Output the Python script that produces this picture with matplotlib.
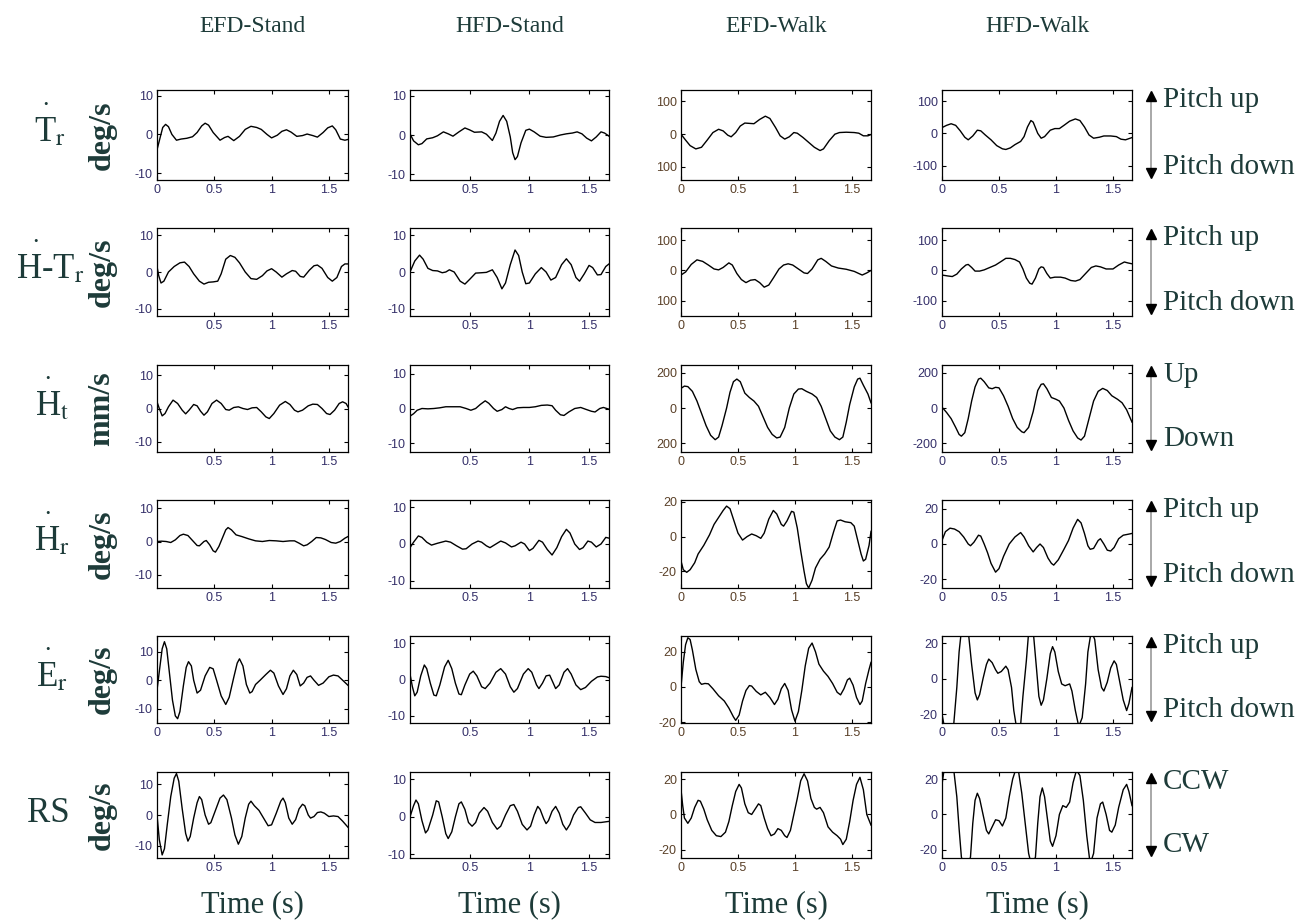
import numpy as np
import matplotlib
matplotlib.use("Agg")
import matplotlib.pyplot as plt
from matplotlib.lines import Line2D

plt.rcParams['axes.unicode_minus'] = False
plt.rcParams['mathtext.fontset'] = 'stix'

# ---------------- data (time s, value) ----------------
columns = ["EFD-Stand", "HFD-Stand", "EFD-Walk", "HFD-Walk"]
row_units = ["deg/s", "deg/s", "mm/s", "deg/s", "deg/s", "deg/s"]
row_up = ["Pitch up", "Pitch up", "Up", "Pitch up", "Pitch up", "CCW"]
row_down = ["Pitch down", "Pitch down", "Down", "Pitch down", "Pitch down", "CW"]

efd_stand_tr = [(0,-4),(0.03,-0.5),(0.05,1.8),(0.075,2.6),(0.10,2.0),(0.13,0),(0.17,-1.5),(0.21,-1.2),(0.26,-1.0),(0.31,-0.6),(0.35,0.5),(0.39,2.2),(0.42,2.9),(0.45,2.4),(0.49,0.5),(0.55,-1.5),(0.59,-0.8),(0.62,-0.5),(0.67,-1.6),(0.72,-0.5),(0.77,1.3),(0.82,2.1),(0.87,1.8),(0.91,1.3),(0.96,0),(1.00,-0.9),(1.05,-0.2),(1.09,0.8),(1.13,1.2),(1.17,0.6),(1.22,-0.5),(1.27,-0.3),(1.31,0.1),(1.36,-0.3),(1.40,-0.7),(1.45,0.5),(1.49,1.7),(1.53,2.2),(1.56,1.2),(1.60,-1.2),(1.64,-1.5),(1.667,-1.3)]
hfd_stand_tr = [(0,0.3),(0.03,-1.5),(0.07,-2.5),(0.1,-2.2),(0.14,-1.0),(0.19,-0.7),(0.23,-0.2),(0.28,0.8),(0.32,0.3),(0.36,-0.3),(0.41,0.8),(0.46,1.8),(0.5,1.3),(0.54,0.7),(0.6,0.8),(0.64,0.2),(0.69,-1.4),(0.72,0.5),(0.75,3.5),(0.78,5.0),(0.81,3.5),(0.84,-0.5),(0.86,-4.5),(0.88,-6.3),(0.9,-5.5),(0.93,-2),(0.97,1.2),(1.0,1.5),(1.04,0.8),(1.09,-0.3),(1.14,-0.6),(1.2,-0.5),(1.26,0),(1.31,0.3),(1.36,0.5),(1.4,0.8),(1.44,0.3),(1.48,-0.8),(1.52,-1.5),(1.56,-0.5),(1.6,0.8),(1.63,0.5),(1.667,-0.3)]
efd_walk_tr = [(0,0),(0.04,-18),(0.08,-35),(0.13,-45),(0.18,-40),(0.23,-18),(0.28,5),(0.33,15),(0.37,10),(0.41,-3),(0.44,-8),(0.48,5),(0.52,25),(0.56,34),(0.6,33),(0.64,32),(0.69,45),(0.74,55),(0.78,48),(0.83,20),(0.87,-5),(0.91,-15),(0.95,-8),(0.99,5),(1.02,3),(1.07,-10),(1.12,-25),(1.17,-40),(1.22,-50),(1.25,-45),(1.3,-20),(1.35,0),(1.39,5),(1.45,6),(1.52,5),(1.56,3),(1.6,-5),(1.64,-5),(1.667,-1)]
hfd_walk_tr = [(0,18),(0.04,25),(0.08,30),(0.12,25),(0.16,8),(0.2,-12),(0.23,-20),(0.27,-8),(0.31,10),(0.34,8),(0.38,-5),(0.43,-20),(0.48,-38),(0.53,-48),(0.56,-50),(0.6,-45),(0.64,-35),(0.69,-25),(0.72,-10),(0.75,20),(0.78,40),(0.8,35),(0.84,0),(0.87,-15),(0.9,-10),(0.95,10),(0.99,15),(1.03,15),(1.07,25),(1.12,38),(1.17,45),(1.21,40),(1.25,20),(1.29,-5),(1.33,-15),(1.38,-12),(1.42,-8),(1.48,-8),(1.53,-10),(1.57,-18),(1.61,-20),(1.667,-13)]

efd_stand_htr = [(0,1.5),(0.015,-1),(0.035,-3),(0.06,-2.5),(0.1,0),(0.15,1.5),(0.2,2.5),(0.24,2.7),(0.28,1.5),(0.32,-0.5),(0.37,-2.5),(0.41,-3.3),(0.45,-2.8),(0.49,-2.7),(0.53,-2.5),(0.56,-0.5),(0.6,3.5),(0.64,4.5),(0.68,4.0),(0.72,2.5),(0.77,0),(0.82,-1.8),(0.87,-2.0),(0.92,-1.0),(0.96,0.3),(1.0,0.9),(1.04,0),(1.09,-1.4),(1.13,-0.5),(1.18,0.4),(1.21,0.2),(1.25,-1.2),(1.28,-1.4),(1.33,0.5),(1.37,1.7),(1.4,1.9),(1.44,1.0),(1.49,-1.5),(1.53,-2.5),(1.57,-1.5),(1.61,1.5),(1.64,2.2),(1.667,2.2)]
hfd_stand_htr = [(0,0),(0.04,3),(0.08,4.6),(0.11,3.5),(0.15,1),(0.19,0.4),(0.23,0.3),(0.27,-0.2),(0.3,0),(0.33,0.6),(0.37,0),(0.42,-2.5),(0.46,-3.3),(0.5,-2.0),(0.55,-0.3),(0.6,-0.2),(0.64,-0.1),(0.69,0.6),(0.73,-1.5),(0.77,-4.6),(0.8,-3),(0.84,2),(0.88,6.0),(0.91,4.5),(0.94,0),(0.97,-3.2),(1.0,-3.0),(1.05,-0.5),(1.1,1.2),(1.14,0),(1.18,-2.2),(1.22,-1.5),(1.27,2),(1.31,3.6),(1.35,2),(1.39,-1.5),(1.42,-2.5),(1.46,-0.5),(1.5,1.8),(1.53,1.2),(1.57,-0.8),(1.6,-0.7),(1.64,1.5),(1.667,2.2)]
efd_walk_htr = [(0,-15),(0.04,-5),(0.09,20),(0.14,35),(0.19,30),(0.24,18),(0.29,5),(0.33,2),(0.37,10),(0.42,25),(0.45,18),(0.49,-10),(0.53,-30),(0.57,-40),(0.61,-32),(0.65,-30),(0.69,-40),(0.73,-55),(0.77,-48),(0.81,-25),(0.86,5),(0.9,18),(0.94,22),(0.98,18),(1.03,5),(1.08,-8),(1.11,-10),(1.15,5),(1.2,35),(1.23,40),(1.27,30),(1.32,15),(1.38,8),(1.45,4),(1.52,-3),(1.56,-10),(1.59,-15),(1.63,-8),(1.667,0)]
hfd_walk_htr = [(0,-15),(0.05,-18),(0.09,-20),(0.13,-12),(0.17,5),(0.21,18),(0.23,20),(0.26,10),(0.29,-2),(0.33,-2),(0.37,2),(0.42,10),(0.47,18),(0.52,30),(0.56,40),(0.6,40),(0.64,36),(0.68,28),(0.71,5),(0.74,-25),(0.77,-42),(0.79,-45),(0.82,-25),(0.85,5),(0.87,12),(0.89,10),(0.92,-10),(0.95,-25),(0.99,-22),(1.04,-22),(1.08,-25),(1.13,-33),(1.17,-35),(1.21,-30),(1.26,-10),(1.31,10),(1.35,15),(1.39,12),(1.44,5),(1.5,5),(1.55,18),(1.6,28),(1.63,25),(1.667,22)]

efd_stand_ht = [(0,2),(0.02,0),(0.045,-2.2),(0.07,-1.5),(0.1,0.5),(0.14,2.5),(0.18,1.5),(0.22,-0.5),(0.25,-1.6),(0.28,-0.5),(0.32,1.2),(0.35,0.8),(0.38,-0.8),(0.41,-2.0),(0.44,-1),(0.48,1.5),(0.52,2.5),(0.56,1.5),(0.6,-0.3),(0.63,-0.5),(0.67,0.3),(0.71,0.5),(0.75,0),(0.79,-0.3),(0.83,0.2),(0.87,0.3),(0.91,-1),(0.95,-2.5),(0.98,-3),(1.02,-1.5),(1.07,1),(1.12,2.1),(1.16,1.2),(1.2,-0.5),(1.23,-1),(1.27,-0.5),(1.32,0.8),(1.36,1.3),(1.4,1.2),(1.44,0),(1.48,-1.5),(1.51,-1.8),(1.55,-0.5),(1.59,1.5),(1.62,2),(1.65,1.5),(1.667,0.5)]
hfd_stand_ht = [(0,-2.2),(0.03,-1.5),(0.06,-0.5),(0.1,0),(0.15,-0.1),(0.2,0),(0.25,0.2),(0.3,0.5),(0.36,0.5),(0.42,0.5),(0.47,0),(0.51,-0.5),(0.55,0),(0.59,1.2),(0.63,2.2),(0.66,1.5),(0.7,0),(0.73,-0.8),(0.77,-0.3),(0.8,0.5),(0.83,0),(0.86,-0.3),(0.9,0.2),(0.95,0.3),(1.0,0.3),(1.05,0.5),(1.1,0.9),(1.15,1),(1.19,0.8),(1.22,-0.5),(1.26,-1.8),(1.29,-2),(1.33,-1),(1.38,0),(1.43,0.3),(1.47,-0.2),(1.52,-0.8),(1.55,-1),(1.59,0),(1.62,0.3),(1.667,-0.2)]
efd_walk_ht = [(0,112),(0.03,125),(0.06,122),(0.1,95),(0.14,40),(0.18,-30),(0.22,-100),(0.26,-155),(0.3,-180),(0.33,-165),(0.36,-100),(0.4,0),(0.43,90),(0.46,150),(0.49,165),(0.52,150),(0.56,85),(0.6,60),(0.64,40),(0.68,10),(0.72,-50),(0.76,-110),(0.8,-150),(0.84,-170),(0.87,-165),(0.91,-110),(0.95,0),(0.99,80),(1.03,108),(1.06,110),(1.1,95),(1.15,80),(1.19,60),(1.23,10),(1.27,-60),(1.31,-130),(1.35,-165),(1.39,-180),(1.42,-165),(1.45,-80),(1.48,20),(1.52,120),(1.55,165),(1.57,170),(1.6,130),(1.64,80),(1.667,30)]
hfd_walk_ht = [(0,5),(0.04,-25),(0.08,-60),(0.12,-110),(0.15,-150),(0.17,-160),(0.2,-140),(0.23,-60),(0.26,40),(0.29,120),(0.32,165),(0.34,170),(0.37,150),(0.41,115),(0.44,110),(0.47,118),(0.5,115),(0.54,70),(0.58,10),(0.62,-60),(0.66,-110),(0.7,-135),(0.72,-140),(0.76,-110),(0.8,-20),(0.84,100),(0.87,135),(0.89,138),(0.92,110),(0.96,60),(1.0,50),(1.03,40),(1.07,0),(1.11,-70),(1.15,-130),(1.19,-170),(1.22,-182),(1.25,-160),(1.29,-60),(1.33,40),(1.37,95),(1.41,112),(1.45,100),(1.49,70),(1.54,50),(1.58,30),(1.62,-10),(1.667,-80)]

efd_stand_hr = [(0,0),(0.04,0.1),(0.08,0),(0.12,-0.3),(0.16,0.5),(0.2,1.8),(0.23,2.2),(0.27,1.8),(0.31,0.3),(0.35,-1.2),(0.37,-1.3),(0.41,0),(0.43,0.3),(0.46,-1),(0.49,-2.8),(0.51,-3.2),(0.54,-1.5),(0.57,1),(0.6,3.5),(0.62,4.2),(0.65,3.5),(0.69,2),(0.74,1.5),(0.8,0.8),(0.86,0.2),(0.92,0),(0.98,0.3),(1.04,0.2),(1.1,0),(1.16,0.2),(1.2,0.2),(1.24,-0.5),(1.28,-1.3),(1.31,-1),(1.35,0),(1.39,1.2),(1.43,1.1),(1.47,0.6),(1.52,-0.3),(1.56,-0.5),(1.6,0),(1.64,1),(1.667,1.5)]
hfd_stand_hr = [(0,-1),(0.03,0.5),(0.07,2.2),(0.1,1.8),(0.14,0.5),(0.18,-0.3),(0.23,0.2),(0.3,0.8),(0.34,0.5),(0.39,-0.5),(0.44,-1.4),(0.47,-1.3),(0.52,0),(0.57,0.8),(0.6,0.5),(0.64,-0.5),(0.67,-1),(0.72,0),(0.76,0.8),(0.8,0.3),(0.85,-0.8),(0.88,-0.5),(0.93,0.5),(0.96,0),(1.0,-1.8),(1.03,-1.2),(1.08,1.0),(1.11,0.5),(1.15,-1.5),(1.19,-3),(1.23,-1),(1.27,2),(1.31,4),(1.34,3),(1.38,0),(1.42,-1.5),(1.45,-1),(1.49,0.8),(1.52,0.5),(1.56,-0.8),(1.6,0),(1.64,1.8),(1.667,1.6)]
efd_walk_hr = [(0,-14),(0.02,-19),(0.05,-20.5),(0.08,-19),(0.12,-15),(0.15,-10),(0.2,-5),(0.25,1),(0.29,7),(0.33,11),(0.37,15),(0.4,17.5),(0.43,16),(0.46,10),(0.5,2),(0.54,-2),(0.58,0),(0.62,1.5),(0.66,0.5),(0.7,-1),(0.73,2),(0.77,10),(0.81,15),(0.84,13),(0.88,7),(0.9,6),(0.93,9),(0.97,14.5),(0.99,14),(1.02,5),(1.05,-8),(1.08,-20),(1.1,-27),(1.12,-29.5),(1.15,-25),(1.18,-18),(1.22,-13),(1.26,-10),(1.3,-6),(1.34,3),(1.37,9),(1.4,9.5),(1.44,8.5),(1.49,8),(1.52,6),(1.55,-2),(1.58,-10),(1.6,-14),(1.62,-13),(1.65,-5),(1.667,3)]
hfd_walk_hr = [(0,2),(0.03,7),(0.07,9),(0.11,8.5),(0.15,7),(0.19,4),(0.23,0),(0.25,-1),(0.28,1),(0.32,5),(0.34,4.5),(0.37,0),(0.4,-5),(0.43,-11),(0.47,-16),(0.5,-14),(0.54,-7),(0.59,0),(0.64,4),(0.69,6.5),(0.72,4),(0.76,-1),(0.8,-4.5),(0.83,-2),(0.86,0),(0.89,-2),(0.93,-8),(0.96,-11),(0.98,-12),(1.02,-9),(1.07,-3),(1.11,2),(1.15,9),(1.19,14),(1.22,12),(1.25,6),(1.28,-1),(1.3,-3),(1.33,-2.5),(1.37,2),(1.39,3),(1.42,0),(1.45,-3.5),(1.48,-4),(1.51,-2),(1.55,3),(1.59,5),(1.63,5.5),(1.667,6)]

efd_stand_er = [(0,-3.5),(0.02,3),(0.045,11),(0.065,13.5),(0.085,11),(0.11,2),(0.135,-7),(0.16,-12.5),(0.18,-13.5),(0.2,-11),(0.23,-2),(0.255,4.5),(0.275,6.5),(0.3,5),(0.32,0),(0.35,-4.5),(0.38,-3.5),(0.42,1.5),(0.46,4.5),(0.49,4),(0.52,0),(0.56,-5.5),(0.6,-8.5),(0.63,-6),(0.67,1),(0.7,6),(0.72,7.5),(0.75,5),(0.78,-1.5),(0.81,-4.5),(0.83,-4),(0.86,-1.5),(0.9,0),(0.95,2),(0.99,3.5),(1.02,2.5),(1.06,-2),(1.1,-5),(1.13,-3),(1.16,1.5),(1.19,3.5),(1.22,2),(1.25,-2),(1.28,-1),(1.31,1),(1.34,1.5),(1.37,0),(1.41,-1.8),(1.45,-1),(1.5,1.2),(1.54,1.8),(1.58,1.5),(1.62,0),(1.667,-1.8)]
hfd_stand_er = [(0,1.5),(0.02,-2),(0.04,-4.5),(0.06,-3.5),(0.09,1),(0.12,4),(0.14,3),(0.17,-1),(0.2,-4.3),(0.22,-4.5),(0.25,-1.5),(0.29,3.5),(0.32,5.3),(0.35,3),(0.38,-1),(0.41,-4),(0.43,-4.2),(0.46,-1.5),(0.5,1.5),(0.53,2.3),(0.56,1),(0.6,-2),(0.63,-2.5),(0.67,-1),(0.72,2),(0.76,3),(0.8,1.5),(0.84,-2),(0.87,-3.5),(0.9,-2.5),(0.95,1.5),(0.99,3),(1.02,2),(1.06,-1.5),(1.08,-2.5),(1.11,-1),(1.14,1),(1.17,1.2),(1.2,-1),(1.22,-2.5),(1.25,-1.5),(1.29,2),(1.32,3),(1.35,1.5),(1.39,-1.5),(1.43,-2.8),(1.47,-2.2),(1.52,-0.5),(1.57,0.7),(1.6,0.9),(1.64,0.8),(1.667,0.5)]
efd_walk_er = [(0,0),(0.02,14),(0.04,24),(0.06,28),(0.08,27),(0.1,21),(0.13,10),(0.16,3),(0.18,1.5),(0.21,2),(0.24,1.8),(0.28,-1),(0.33,-5),(0.38,-8),(0.42,-12),(0.46,-17),(0.48,-19),(0.51,-16),(0.54,-8),(0.57,-2),(0.6,0.8),(0.62,0.5),(0.66,-2.5),(0.7,-4.5),(0.74,-3),(0.78,-6),(0.82,-10),(0.85,-7),(0.88,-1),(0.91,2),(0.94,-2),(0.97,-13),(1.0,-19.5),(1.03,-14),(1.06,-2),(1.09,12),(1.12,22),(1.15,25),(1.18,20),(1.21,13),(1.25,9),(1.29,6),(1.33,2),(1.37,-3),(1.4,-4.5),(1.43,-1),(1.46,4),(1.48,5),(1.51,1),(1.54,-6),(1.57,-10),(1.59,-8),(1.62,2),(1.65,10),(1.667,14)]
hfd_walk_er = [(0,-20),(0.02,-27),(0.06,-35),(0.1,-28),(0.13,-5),(0.15,15),(0.17,27),(0.2,34),(0.23,27),(0.26,8),(0.29,-8),(0.31,-12),(0.33,-9),(0.36,0),(0.39,8),(0.41,11),(0.44,9),(0.47,5),(0.49,3),(0.52,4),(0.56,7),(0.58,5),(0.61,-5),(0.63,-18),(0.66,-30),(0.69,-26),(0.71,-10),(0.74,10),(0.76,26),(0.78,32),(0.8,27),(0.83,5),(0.85,-10),(0.87,-15),(0.89,-12),(0.92,0),(0.95,14),(0.97,18),(0.99,15),(1.02,4),(1.05,-3),(1.08,-4),(1.12,-3),(1.14,-7),(1.17,-18),(1.2,-27),(1.23,-22),(1.26,-3),(1.28,15),(1.31,27),(1.34,22),(1.37,5),(1.4,-5),(1.42,-7),(1.45,-2),(1.48,6),(1.51,10),(1.53,8),(1.56,-2),(1.59,-12),(1.62,-18),(1.64,-14),(1.667,-5)]

efd_stand_rs = [(0,0),(0.02,-8),(0.045,-13),(0.065,-11),(0.09,-3),(0.12,6),(0.15,12),(0.17,13.5),(0.19,11),(0.22,2),(0.25,-6),(0.27,-8.5),(0.29,-7),(0.32,-1),(0.35,4),(0.37,6),(0.39,5),(0.42,0),(0.45,-3),(0.47,-2.5),(0.51,1.5),(0.55,5.5),(0.58,6.5),(0.61,5),(0.65,-1),(0.68,-6.5),(0.71,-9.5),(0.74,-7),(0.77,-1),(0.8,3.5),(0.82,4.5),(0.85,3),(0.89,1.5),(0.93,-1),(0.97,-3.5),(1.0,-3.2),(1.04,0.5),(1.08,4.5),(1.1,5.5),(1.12,4),(1.15,-1),(1.18,-3),(1.21,-1.5),(1.24,2),(1.27,3.5),(1.29,3),(1.32,0),(1.34,-1),(1.37,-0.5),(1.4,0.8),(1.43,1),(1.46,0.6),(1.5,-0.5),(1.54,-0.3),(1.58,-0.5),(1.62,-2),(1.667,-4)]
hfd_stand_rs = [(0,0),(0.03,3),(0.05,4.5),(0.07,3.5),(0.1,-1),(0.13,-4.3),(0.15,-3.5),(0.19,0.5),(0.22,4.3),(0.24,4),(0.27,0),(0.3,-4.5),(0.32,-5.8),(0.35,-4),(0.38,0),(0.41,3.5),(0.43,4),(0.46,2),(0.49,-1.5),(0.52,-2.5),(0.55,-1.5),(0.58,1),(0.62,2.5),(0.65,1.5),(0.69,-1.5),(0.73,-3.3),(0.76,-2.5),(0.8,0.5),(0.84,3),(0.87,3.3),(0.9,1.5),(0.94,-2),(0.98,-3.5),(1.01,-2.5),(1.04,0.5),(1.07,2.8),(1.09,2),(1.12,-0.5),(1.14,-1.8),(1.16,-1),(1.19,1.5),(1.22,2.8),(1.25,1),(1.28,-2),(1.31,-3.5),(1.34,-2),(1.37,0.5),(1.41,2.5),(1.43,2.7),(1.47,1),(1.51,-0.8),(1.55,-1.5),(1.6,-1.5),(1.667,-1.2)]
efd_walk_rs = [(0,14),(0.015,5),(0.03,-2),(0.06,-5),(0.09,-2),(0.12,4),(0.15,8),(0.17,7.5),(0.2,3),(0.23,-3),(0.27,-9),(0.31,-12),(0.35,-12.5),(0.39,-10),(0.42,-4),(0.45,5),(0.48,13),(0.51,17),(0.53,15),(0.56,6),(0.59,1),(0.62,0),(0.65,3),(0.68,6),(0.7,5),(0.73,-2),(0.76,-8),(0.79,-12),(0.82,-11),(0.85,-8),(0.88,-9),(0.91,-12),(0.93,-13),(0.96,-9),(0.99,0),(1.02,9),(1.05,19),(1.08,23),(1.11,19),(1.14,9),(1.17,4),(1.19,3),(1.22,4),(1.25,1),(1.29,-7),(1.33,-10),(1.37,-12),(1.4,-14),(1.42,-17),(1.45,-14),(1.48,-4),(1.51,8),(1.54,17),(1.57,21),(1.6,14),(1.63,0),(1.667,-6)]
hfd_walk_rs = [(0,17),(0.02,26),(0.06,31),(0.1,27),(0.13,10),(0.15,-8),(0.17,-24),(0.21,-33),(0.25,-24),(0.27,-5),(0.29,8),(0.31,12),(0.33,9),(0.36,0),(0.39,-9),(0.41,-11),(0.44,-7),(0.47,-3),(0.5,-3.5),(0.53,-6.5),(0.56,-2),(0.59,10),(0.62,20),(0.65,26),(0.67,25),(0.7,12),(0.73,-5),(0.76,-22),(0.79,-30),(0.82,-24),(0.84,-5),(0.86,10),(0.88,15),(0.9,10),(0.93,-5),(0.95,-15),(0.97,-18),(1.0,-12),(1.03,0),(1.06,5),(1.09,4),(1.12,7),(1.15,18),(1.18,25),(1.21,22),(1.24,8),(1.27,-12),(1.3,-28),(1.33,-22),(1.36,-2),(1.39,6),(1.41,7),(1.44,0),(1.47,-9),(1.49,-10),(1.52,-6),(1.55,4),(1.59,14),(1.62,17),(1.64,13),(1.667,5)]

series = [
    [efd_stand_tr, hfd_stand_tr, efd_walk_tr, hfd_walk_tr],
    [efd_stand_htr, hfd_stand_htr, efd_walk_htr, hfd_walk_htr],
    [efd_stand_ht, hfd_stand_ht, efd_walk_ht, hfd_walk_ht],
    [efd_stand_hr, hfd_stand_hr, efd_walk_hr, hfd_walk_hr],
    [efd_stand_er, hfd_stand_er, efd_walk_er, hfd_walk_er],
    [efd_stand_rs, hfd_stand_rs, efd_walk_rs, hfd_walk_rs],
]

ylims = [
    [(-11.8, 11.5), (-11.5, 11.5), (-140, 135), (-145, 135)],
    [(-12, 12), (-12, 12), (-150, 140), (-150, 140)],
    [(-13, 13), (-12.5, 12.5), (-250, 245), (-250, 245)],
    [(-14, 12.5), (-12, 12), (-29.5, 21), (-25, 25)],
    [(-15, 15.5), (-12, 12), (-20.5, 29), (-25, 24)],
    [(-14, 14), (-11, 12), (-24.6, 24), (-24.6, 24)],
]
ytick_vals = [
    [[-10, 0, 10], [-10, 0, 10], [-100, 0, 100], [-100, 0, 100]],
    [[-10, 0, 10], [-10, 0, 10], [-100, 0, 100], [-100, 0, 100]],
    [[-10, 0, 10], [-10, 0, 10], [-200, 0, 200], [-200, 0, 200]],
    [[-10, 0, 10], [-10, 0, 10], [-20, 0, 20], [-20, 0, 20]],
    [[-10, 0, 10], [-10, 0, 10], [-20, 0, 20], [-20, 0, 20]],
    [[-10, 0, 10], [-10, 0, 10], [-20, 0, 20], [-20, 0, 20]],
]
ytick_text = [
    [["-10", "0", "10"], ["-10", "0", "10"], ["100", "0", "100"], ["-100", "0", "100"]],
    [["-10", "0", "10"], ["-10", "0", "10"], ["100", "0", "100"], ["-100", "0", "100"]],
    [["-10", "0", "10"], ["-10", "0", "10"], ["200", "0", "200"], ["-200", "0", "200"]],
    [["-10", "0", "10"], ["-10", "0", "10"], ["-20", "0", "20"], ["-20", "0", "20"]],
    [["-10", "0", "10"], ["-10", "0", "10"], ["-20", "0", "20"], ["-20", "0", "20"]],
    [["-10", "0", "10"], ["-10", "0", "10"], ["-20", "0", "20"], ["-20", "0", "20"]],
]
show_zero = [
    [True, False, True, True],
    [False, False, True, True],
    [False, False, True, True],
    [False, False, True, True],
    [True, False, True, True],
    [False, False, True, True],
]

# ---------------- layout ----------------
W, H = 1301, 924
fig = plt.figure(figsize=(W / 100, H / 100), dpi=100)
TXT = '#1d3b39'
SERIF = ['Liberation Serif', 'DejaVu Serif']
TICKF = ['Liberation Sans Narrow', 'Liberation Sans', 'DejaVu Sans']

col_px = [(157, 348), (410, 609), (681, 871), (942, 1132)]
row_px = [(90, 180), (228, 316), (365, 452), (500, 588), (636, 723), (772, 858)]
tick_col = ['#35306a', '#35306a', '#5a4028', '#35306a']

def fx(p):
    return p / W

def fy(p):
    return 1 - p / H

for r in range(6):
    for c in range(4):
        x0, x1 = col_px[c]
        y0, y1 = row_px[r]
        ax = fig.add_axes([fx(x0), fy(y1), (x1 - x0) / W, (y1 - y0) / H])
        pts = np.array(series[r][c])
        ax.plot(pts[:, 0], pts[:, 1], color='black', lw=1.0)
        ax.set_xlim(0, 1.667)
        ax.set_ylim(*ylims[r][c])
        xt = [0, 0.5, 1, 1.5] if show_zero[r][c] else [0.5, 1, 1.5]
        ax.set_xticks(xt)
        ax.set_xticklabels([('%g' % v) for v in xt])
        ax.set_yticks(ytick_vals[r][c])
        ax.set_yticklabels(ytick_text[r][c])
        ax.tick_params(direction='in', length=3, width=0.8, top=True, right=True,
                       labelsize=9, colors='black', pad=3)
        for lab in ax.get_xticklabels() + ax.get_yticklabels():
            lab.set_family(TICKF)
            lab.set_color(tick_col[c])
        for s in ax.spines.values():
            s.set_linewidth(0.9)

# column titles
for c, name in enumerate(columns):
    xc = (col_px[c][0] + col_px[c][1]) / 2
    fig.text(fx(xc), fy(27), name, family=SERIF, fontsize=17, color=TXT,
             ha='center', va='center')
    fig.text(fx(xc), fy(905), 'Time (s)', family=SERIF, fontsize=22, color=TXT,
             ha='center', va='center')

# row labels
row_labels = ['T$_\\mathrm{r}$', 'H-T$_\\mathrm{r}$', 'H$_\\mathrm{t}$',
              'H$_\\mathrm{r}$', 'E$_\\mathrm{r}$', 'RS']
label_x = [50, 50, 52, 52, 52, 48]
dot_x = [46, 36, 48, 48, 48, None]
for r in range(6):
    y0, y1 = row_px[r]
    yc = (y0 + y1) / 2
    fig.text(fx(label_x[r]), fy(yc - 2), row_labels[r], family=SERIF, fontsize=25,
             color=TXT, ha='center', va='center')
    if dot_x[r] is not None:
        fig.text(fx(dot_x[r]), fy(yc - 30), '\u2022', family=SERIF, fontsize=9,
                 color=TXT, ha='center', va='center')
    fig.text(fx(102), fy(yc), row_units[r], family=SERIF, fontsize=23,
             fontweight='bold', color=TXT, rotation=90, ha='center', va='center')
    # direction arrows
    top, bot = y0 + 2, y1 - 3
    fig.add_artist(Line2D([fx(1151), fx(1151)], [fy(top + 4), fy(bot - 4)],
                          color='0.6', lw=1.2))
    fig.add_artist(Line2D([fx(1151)], [fy(top + 4)], marker='^', color='black',
                          markersize=7, lw=0))
    fig.add_artist(Line2D([fx(1151)], [fy(bot - 4)], marker='v', color='black',
                          markersize=7, lw=0))
    fig.text(fx(1163), fy(top + 8), row_up[r], family=SERIF, fontsize=21,
             color=TXT, ha='left', va='center')
    fig.text(fx(1163), fy(bot - 10), row_down[r], family=SERIF, fontsize=21,
             color=TXT, ha='left', va='center')

fig.savefig('out.png', dpi=100, facecolor='white')
